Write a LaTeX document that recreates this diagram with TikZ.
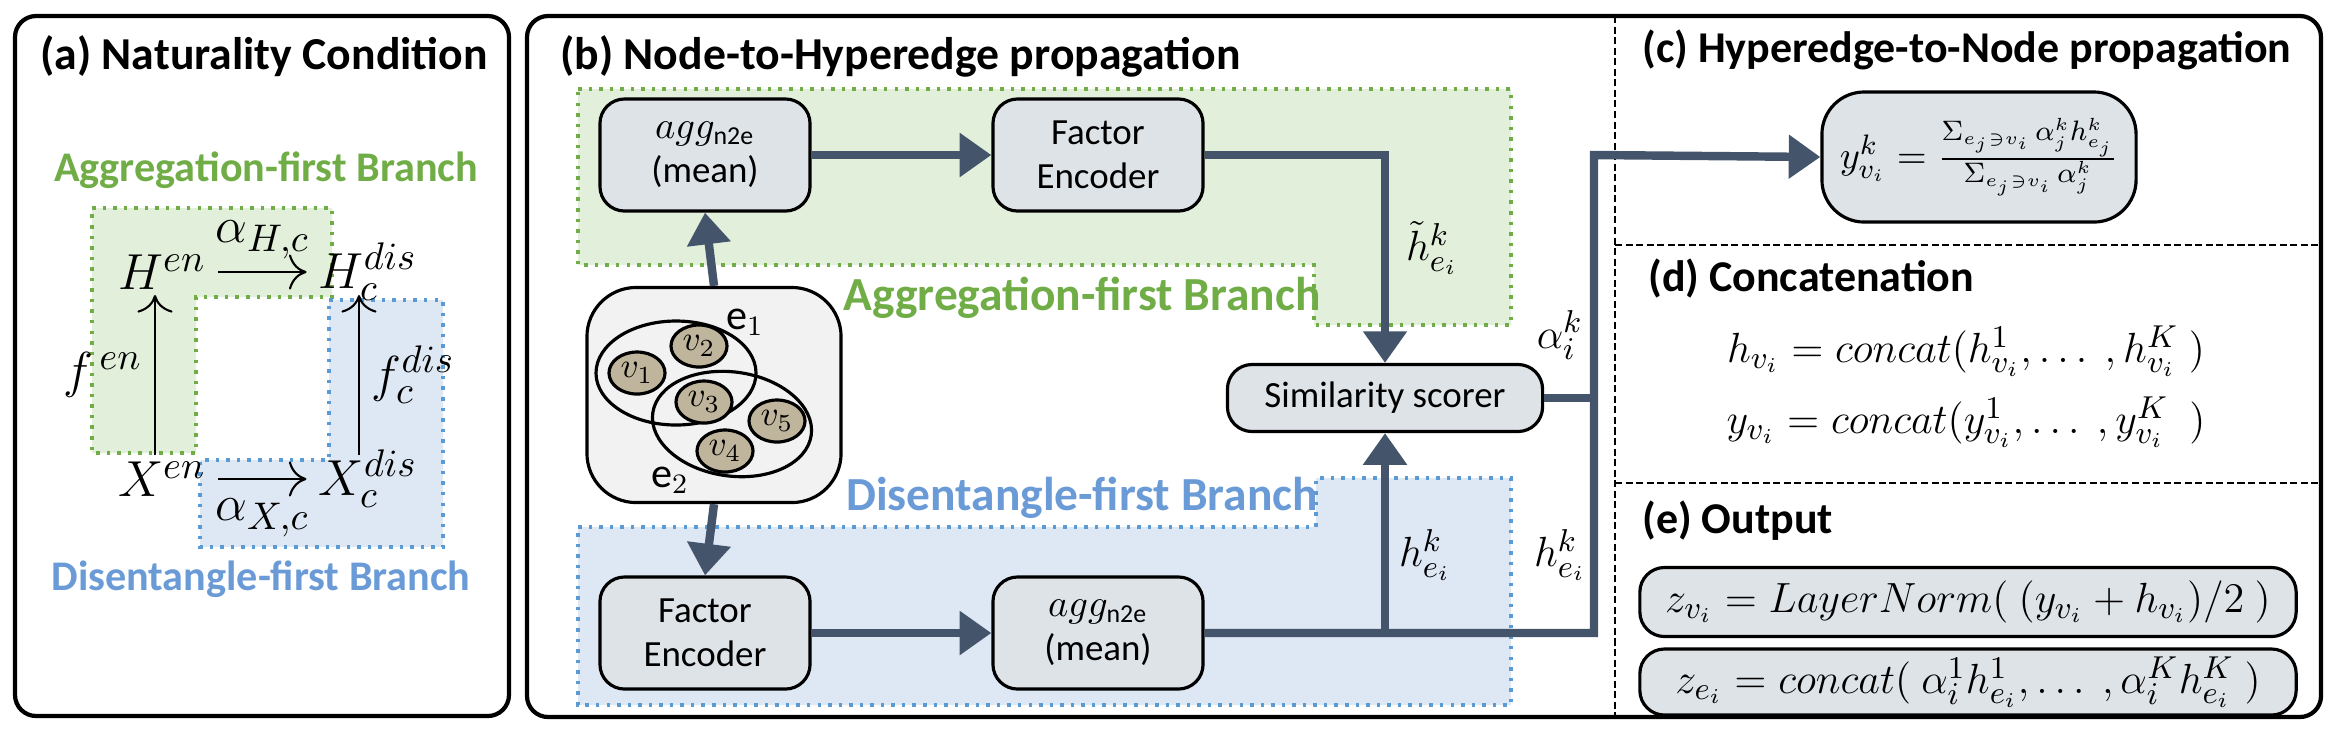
\documentclass[tikz,border=0pt]{standalone}
\usepackage{fontspec}
\setmainfont{Carlito}
\usetikzlibrary{arrows.meta,shapes.geometric}
\definecolor{gfill}{HTML}{E2EFDA}
\definecolor{gline}{HTML}{70AD47}
\definecolor{bfill}{HTML}{DEE7F4}
\definecolor{bline}{HTML}{5B9BD5}
\definecolor{btext}{HTML}{6A9BD6}
\definecolor{boxfill}{HTML}{DEE3E8}
\definecolor{arr}{HTML}{44546A}
\definecolor{vfill}{HTML}{BFB49C}
\begin{document}
\begin{tikzpicture}[x=0.01cm,y=-0.01cm,
  frame/.style={draw=black,line width=1.2pt,rounded corners=6pt},
  sep/.style={draw=black,line width=0.5pt,dash pattern=on 2pt off 1pt},
  greg/.style={fill=gfill,draw=gline,line width=1pt,dotted},
  breg/.style={fill=bfill,draw=bline,line width=1pt,dotted},
  title/.style={anchor=west,font=\fontsize{12.5}{14}\selectfont\bfseries},
  glab/.style={text=gline,font=\fontsize{12}{14}\selectfont\bfseries},
  blab/.style={text=btext,font=\fontsize{12}{14}\selectfont\bfseries},
  box/.style={draw=black,line width=0.9pt,fill=boxfill,rounded corners=7pt,align=center,font=\fontsize{10.5}{12.5}\selectfont,inner sep=0pt},
  flow/.style={draw=arr,line width=2.4pt},
  flowa/.style={flow,-{Triangle[length=9pt,width=12pt]}},
  cd/.style={-{To[length=5pt,width=10pt]},line width=0.6pt},
  mth/.style={font=\fontsize{13}{15}\selectfont},
  amth/.style={font=\fontsize{15}{17}\selectfont},
  vn/.style={draw=black,line width=0.9pt,fill=vfill,ellipse,inner sep=0pt},
]
\useasboundingbox (0,0) rectangle (2340,729);
% ---------- panel (a)
\draw[frame] (15,16) rectangle (509,716);
\node[title,font=\fontsize{13}{15}\selectfont\bfseries] (ta) at (28,56) {(a) Naturality Condition};
\node[glab] (ga) at (266,170) {Aggregation-first Branch};
\node[blab] (ba) at (261,579) {Disentangle-first Branch};
\path[greg] (92,208)--(332,208)--(332,297)--(196,297)--(196,453)--(92,453)--cycle;
\path[breg] (329,300)--(443,300)--(443,547)--(200,547)--(200,460)--(329,460)--cycle;
\node[amth] (Hen) at (162,272) {$H^{en}$};
\node[amth] (Hdis) at (368,272) {$H_c^{dis}$};
\node[amth] (Xen) at (162,479) {$X^{en}$};
\node[amth] (Xdis) at (368,479) {$X_c^{dis}$};
\draw[cd] (Hen.east) -- (Hdis.west) node[midway,above,amth] {$\alpha_{H,c}$};
\draw[cd] (Xen.east) -- (Xdis.west) node[midway,below=2pt,amth] {$\alpha_{X,c}$};
\draw[cd] (155,455) -- (155,295) node[midway,left,amth] {$f^{\,en}$};
\draw[cd] (359,455) -- (359,295) node[midway,right,amth] {$f_c^{dis}$};
% ---------- big frame
\draw[frame] (527,16) rectangle (2321,717);
\draw[sep] (1615,16) -- (1615,717);
\draw[sep] (1615,245) -- (2321,245);
\draw[sep] (1615,483) -- (2321,483);
\node[title,font=\fontsize{13}{15}\selectfont\bfseries] (tb) at (548,56) {(b) Node-to-Hyperedge propagation};
\node[title] (tc) at (1630,50) {(c) Hyperedge-to-Node propagation};
\node[title] (td) at (1636,278) {(d) Concatenation};
\node[title] (te) at (1630,521) {(e) Output};
% regions
\path[greg] (578,89)--(1511,89)--(1511,325)--(1314,325)--(1314,265)--(578,265)--cycle;
\path[breg] (578,527)--(1316,527)--(1316,478)--(1511,478)--(1511,705)--(578,705)--cycle;
\node[glab,font=\fontsize{13.5}{15}\selectfont\bfseries] (gb) at (1082,298) {Aggregation-first Branch};
\node[blab,font=\fontsize{13.5}{15}\selectfont\bfseries] (bb) at (1082,498) {Disentangle-first Branch};
% hyperedge
\node[draw=black,line width=0.9pt,fill=black!5,rounded corners=14pt,minimum width=254*0.2845pt,minimum height=215*0.2845pt] (hyp) at (714,395) {};
\draw[line width=0.9pt] (676,373) ellipse [x radius=80, y radius=52];
\draw[line width=0.9pt,rotate around={-8:(732,424)}] (732,424) ellipse [x radius=80, y radius=52];
\foreach \n/\x/\y in {1/637/373,2/699/346,3/704/402,5/777/421,4/725/451}
  \node[vn,minimum height=42*0.2845pt,minimum width=56*0.2845pt] (v\n) at (\x,\y) {$v_{\n}$};
\node[font=\fontsize{12}{14}\selectfont] (le1) at (745,322) {e$_1$};
\node[font=\fontsize{12}{14}\selectfont] (le2) at (670,480) {e$_2$};
% boxes
\node[box,minimum width=210*0.2845pt,minimum height=112*0.2845pt] (aggT) at (705,155) {$agg_{\mathrm{n2e}}$\\(mean)};
\node[box,minimum width=210*0.2845pt,minimum height=112*0.2845pt] (feT) at (1098,155) {Factor\\Encoder};
\node[box,minimum width=210*0.2845pt,minimum height=112*0.2845pt] (feB) at (705,633) {Factor\\Encoder};
\node[box,minimum width=210*0.2845pt,minimum height=112*0.2845pt] (aggB) at (1098,633) {$agg_{\mathrm{n2e}}$\\(mean)};
\node[box,minimum width=315*0.2845pt,minimum height=67*0.2845pt] (sim) at (1385,398) {Similarity scorer};
\node[box,rounded corners=12pt,minimum width=314*0.2845pt,minimum height=130*0.2845pt,font=\fontsize{11}{13}\selectfont] (cb) at (1979,157)
  {$y_{v_i}^k=\frac{\Sigma_{e_j\ni v_i}\,\alpha_j^k h_{e_j}^k}{\Sigma_{e_j\ni v_i}\,\alpha_j^k}$};
\node[box,minimum width=656*0.2845pt,minimum height=69*0.2845pt,font=\fontsize{13}{15}\selectfont] (e1) at (1968,602)
  {$z_{v_i}=LayerNorm(\ (y_{v_i}+h_{v_i})/2\ )$};
\node[box,minimum width=656*0.2845pt,minimum height=66*0.2845pt,font=\fontsize{13}{15}\selectfont] (e2) at (1968,682)
  {$z_{e_i}=concat(\ \alpha_i^1h_{e_i}^1,\dots\ ,\alpha_i^Kh_{e_i}^K\ )$};
\node[mth] (d1) at (1966,351) {$h_{v_i}=concat(h_{v_i}^1,\dots\ ,h_{v_i}^K\ )$};
\node[mth] (d2) at (1966,422) {$y_{v_i}=concat(y_{v_i}^1,\dots\ ,y_{v_i}^K\ \ )$};
% flows
\coordinate (br) at (1385,633);
\coordinate (c1) at (1594,633);
\coordinate (c2) at (1594,155);
\coordinate (c3) at (1594,398);
\draw[flowa] (hyp.north) -- (aggT.south);
\draw[flowa] (aggT.east) -- (feT.west);
\draw[flowa] (feT.east) -| (sim.north);
\draw[flowa] (hyp.south) -- (feB.north);
\draw[flowa] (feB.east) -- (aggB.west);
\draw[flowa] (aggB.east) -- (c1) -- (c2) -- (cb.west);
\draw[flowa] (br) -- (sim.south);
\draw[flow] (sim.east) -- (c3);
\node[mth] (lht) at (1432,248) {$\tilde h_{e_i}^k$};
\node[mth] (lal) at (1560,335) {$\alpha_i^k$};
\node[mth] (lh1) at (1425,555) {$h_{e_i}^k$};
\node[mth] (lh2) at (1560,555) {$h_{e_i}^k$};
\end{tikzpicture}
\end{document}
